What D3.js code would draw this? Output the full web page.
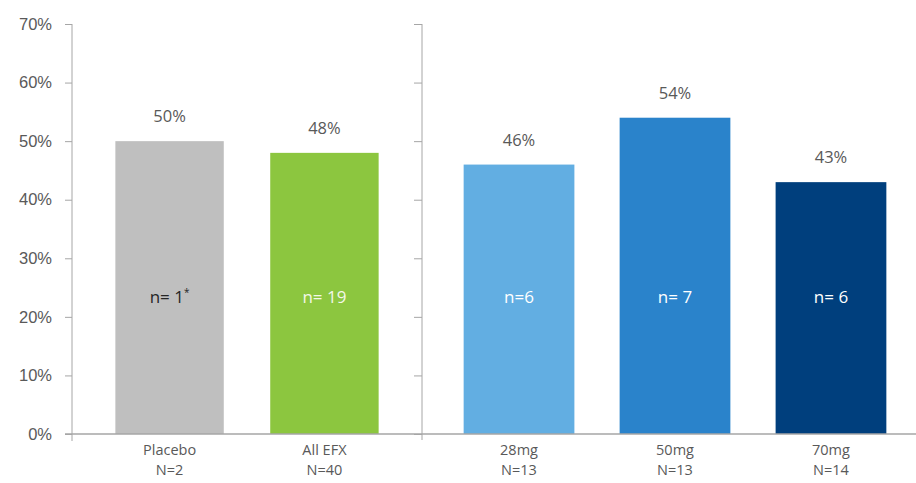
<!DOCTYPE html>
<html>
<head>
<meta charset="utf-8">
<script src="https://cdn.jsdelivr.net/npm/d3@7"></script>
<style>
  html, body { margin: 0; padding: 0; background: #ffffff; }
  svg { display: block; font-family: "Open Sans", "Noto Sans", "DejaVu Sans", sans-serif; }
</style>
</head>
<body>
<svg id="chart" width="916" height="483"></svg>
<script>
// Response rates by treatment group
const leftGroups = ["Placebo", "All EFX"];
const rightGroups = ["28mg", "50mg", "70mg"];
const groupN = ["N=2", "N=40", "N=13", "N=13", "N=14"];
const rates = [50, 48, 46, 54, 43];
const responders = ["1", "19", "6", "7", "6"];
const nSpacing = ["n= ", "n= ", "n=", "n= ", "n= "];
const barColors = ["#bfbfbf", "#8cc63f", "#62aee2", "#2a83cb", "#003f7d"];
const inBarText = ["#262626", "#f3f8e8", "#ffffff", "#ffffff", "#ffffff"];
const yTicks = [0, 10, 20, 30, 40, 50, 60, 70];

const svg = d3.select("#chart");
const axisColor = "#a6a6a6";
const textColor = "#595959";

const y = d3.scaleLinear().domain([0, 70]).range([434, 24]);

const xLeft = d3.scaleBand().domain(leftGroups).range([72, 422])
  .paddingInner(0.3).paddingOuter(0.28);
const xRight = d3.scaleBand().domain(rightGroups).range([422, 928])
  .paddingInner(0.29).paddingOuter(0.267);

const bars = leftGroups.map((c, i) => ({ cat: c, scale: xLeft, i }))
  .concat(rightGroups.map((c, j) => ({ cat: c, scale: xRight, i: j + 2 })));
const cx = d => d.scale(d.cat) + d.scale.bandwidth() / 2;

// bars
svg.append("g").selectAll("rect").data(bars).join("rect")
  .attr("x", d => d.scale(d.cat))
  .attr("width", d => d.scale.bandwidth())
  .attr("y", d => y(rates[d.i]))
  .attr("height", d => y(0) - y(rates[d.i]))
  .attr("fill", d => barColors[d.i]);

// left value axis
const yAxis = svg.append("g").attr("transform", "translate(72,0)")
  .call(d3.axisLeft(y).tickValues(yTicks).tickSize(7).tickPadding(13)
    .tickFormat(d => d + "%"));
yAxis.select(".domain").remove();
yAxis.selectAll(".tick line").attr("stroke", axisColor);
yAxis.selectAll(".tick text").attr("fill", textColor)
  .style("font-size", "16.5px");
yAxis.append("line").attr("x1", 0).attr("x2", 0)
  .attr("y1", y(70)).attr("y2", y(0) + 7).attr("stroke", axisColor);

// divider axis between the two groups
const divider = svg.append("g").attr("transform", "translate(422,0)")
  .call(d3.axisLeft(y).tickValues(yTicks).tickSize(8).tickFormat(""));
divider.select(".domain").remove();
divider.selectAll(".tick line").attr("stroke", axisColor);
divider.append("line").attr("x1", 0).attr("x2", 0)
  .attr("y1", y(70)).attr("y2", y(0) + 6).attr("stroke", axisColor);

// baseline
svg.append("line").attr("x1", 65).attr("x2", 916)
  .attr("y1", y(0)).attr("y2", y(0))
  .attr("stroke", axisColor).attr("stroke-width", 1.5);

// value labels above bars
svg.append("g").selectAll("text").data(bars).join("text")
  .attr("x", cx)
  .attr("y", d => y(rates[d.i]) - 19)
  .attr("text-anchor", "middle")
  .attr("fill", textColor)
  .style("font-size", "16.5px")
  .text(d => rates[d.i] + "%");

// responder counts inside bars
const inLabels = svg.append("g").selectAll("text").data(bars).join("text")
  .attr("x", cx)
  .attr("y", 303)
  .attr("text-anchor", "middle")
  .attr("fill", d => inBarText[d.i])
  .style("font-size", "17px");
inLabels.append("tspan").text(d => nSpacing[d.i] + responders[d.i]);
inLabels.filter(d => d.i === 0).append("tspan")
  .attr("dy", -7).style("font-size", "10px").text("*");

// category labels, two lines each
const catG = svg.append("g")
  .attr("text-anchor", "middle")
  .attr("fill", textColor)
  .style("font-size", "14.5px");
catG.selectAll("text.cat").data(bars).join("text")
  .attr("class", "cat").attr("x", cx).attr("y", 455).text(d => d.cat);
catG.selectAll("text.num").data(bars).join("text")
  .attr("class", "num").attr("x", cx).attr("y", 475).text(d => groupN[d.i]);
</script>
</body>
</html>
